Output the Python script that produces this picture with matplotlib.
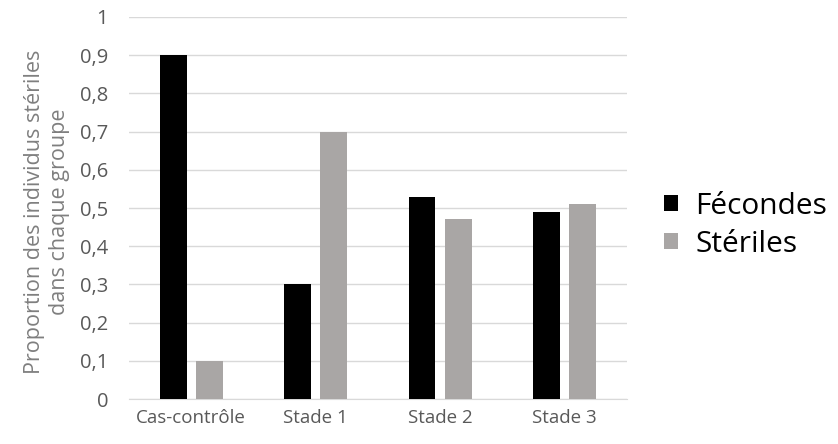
import numpy as np
import matplotlib.pyplot as plt

# Data
categories = ['Cas-contrôle', 'Stade 1', 'Stade 2', 'Stade 3']
fecondes = [0.90, 0.30, 0.53, 0.49]
steriles = [0.10, 0.70, 0.47, 0.51]
yticks = [0, 0.1, 0.2, 0.3, 0.4, 0.5, 0.6, 0.7, 0.8, 0.9, 1.0]

plt.rcParams['font.family'] = ['Open Sans', 'DejaVu Sans']

fig = plt.figure(figsize=(8.38, 4.44), dpi=100)
ax = fig.add_axes([0.154, 0.101, 0.594, 0.861])

x = np.arange(len(categories))
w = 0.215
ax.bar(x - 0.145, fecondes, w, color='#000000', label='Fécondes', zorder=3)
ax.bar(x + 0.145, steriles, w, color='#a9a6a5', label='Stériles', zorder=3)

ax.set_xlim(-0.5, 3.5)
ax.set_ylim(0, 1)
ax.set_yticks(yticks)
ax.set_yticklabels([('%g' % v).replace('.', ',') for v in yticks])
ax.set_xticks(x)
ax.set_xticklabels(categories)
ax.tick_params(axis='both', length=0, labelsize=13.5, colors='#595959')
ax.tick_params(axis='y', labelsize=14.5, pad=15)
ax.tick_params(axis='x', pad=7)
ax.yaxis.grid(True, color='#d9d9d9', linewidth=1, zorder=0)
for s in ['top', 'right', 'left']:
    ax.spines[s].set_visible(False)
ax.spines['bottom'].set_color('#d9d9d9')

ax.set_ylabel('Proportion des individus stériles\ndans chaque groupe',
              fontsize=15.5, color='#7f7f7f', linespacing=1.3)
ax.yaxis.set_label_coords(-0.118, 0.49)

ax.legend(loc='center left', bbox_to_anchor=(1.075, 0.455), frameon=False,
          fontsize=21.5, handlelength=0.45, handleheight=0.45, handletextpad=0.6,
          labelspacing=0.3, borderaxespad=0, borderpad=0)

fig.savefig('out.png', dpi=100)
